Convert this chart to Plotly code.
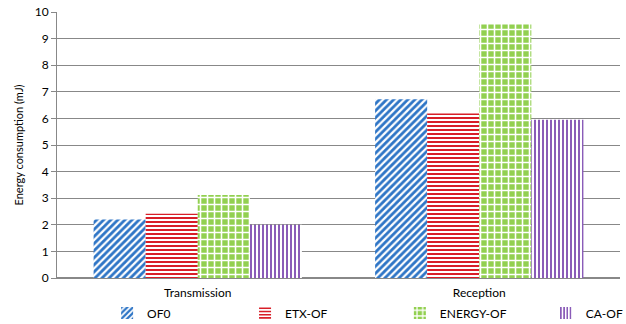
import plotly.graph_objects as go

categories = ["Transmission", "Reception"]
of0 = [2.2, 6.72]
etx_of = [2.42, 6.18]
energy_of = [3.12, 9.53]
ca_of = [2.0, 5.95]

# name, values, pattern shape, foreground, background, size, solidity
series = [
    ("OF0", of0, "/", "#2E75C6", "white", 5, 0.55),
    ("ETX-OF", etx_of, "-", "#D81E28", "white", 4, 0.5),
    ("ENERGY-OF", energy_of, "+", "white", "#92D050", 7, 0.4),
    ("CA-OF", ca_of, "|", "#8A5CB8", "white", 4, 0.5),
]

# one legend box per series so the entries sit at fixed spots along the bottom
legend_ids = ["legend", "legend2", "legend3", "legend4"]
legend_x = [0.089, 0.334, 0.609, 0.868]

fig = go.Figure()
for (name, vals, shape, fg, bg, size, sol), lid in zip(series, legend_ids):
    fig.add_trace(go.Bar(
        name=name, x=categories, y=vals, legend=lid,
        marker=dict(
            color=bg,
            line=dict(width=0),
            pattern=dict(shape=shape, fgcolor=fg, bgcolor=bg,
                         size=size, solidity=sol, fillmode="replace"),
        ),
    ))

font = "Lato, Open Sans, sans-serif"
legend_style = dict(orientation="h", xanchor="left", y=-0.132, yanchor="middle",
                    font=dict(size=12), itemwidth=30, bgcolor="rgba(0,0,0,0)")
fig.update_layout(
    width=626, height=324,
    margin=dict(l=57, r=6, t=12, b=46, autoexpand=False),
    paper_bgcolor="white", plot_bgcolor="white",
    barmode="group", bargap=0.26, bargroupgap=0,
    font=dict(family=font, size=12, color="#000000"),
    showlegend=True,
    **{lid: dict(legend_style, x=lx) for lid, lx in zip(legend_ids, legend_x)},
)
fig.update_xaxes(showline=True, linecolor="#888888", linewidth=1,
                 ticks="outside", ticklen=4, tickcolor="rgba(0,0,0,0)",
                 tickfont=dict(size=12))
fig.update_yaxes(range=[0, 10], dtick=1, showgrid=True, gridcolor="#888888",
                 gridwidth=1, showline=True, linecolor="#888888",
                 ticks="outside", ticklen=5, tickcolor="#888888",
                 zeroline=True, zerolinecolor="#888888",
                 title=dict(text="Energy consumption (mJ)", font=dict(size=11), standoff=8),
                 tickfont=dict(size=12))
fig.write_html("out.html")
